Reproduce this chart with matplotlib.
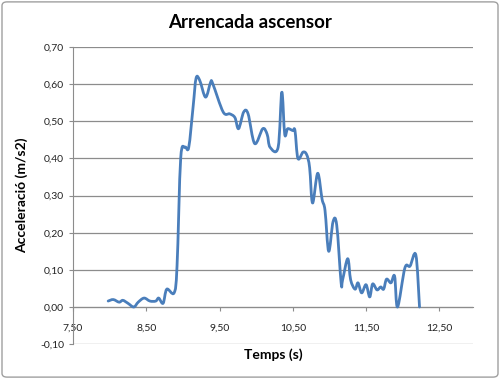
import matplotlib
matplotlib.use("Agg")
import matplotlib.pyplot as plt
from matplotlib.patches import FancyBboxPatch, PathPatch
from matplotlib.path import Path
from matplotlib.ticker import FuncFormatter, MultipleLocator

time_s = [7.98, 8.05, 8.13, 8.18, 8.25, 8.33, 8.39, 8.47, 8.55, 8.63, 8.67, 8.73,
          8.78, 8.88, 8.92, 8.97, 9.03, 9.08, 9.14, 9.18, 9.23, 9.31, 9.38, 9.41,
          9.55, 9.64, 9.71, 9.76, 9.83, 9.89, 9.98, 10.09, 10.15, 10.19, 10.30,
          10.35, 10.39, 10.43, 10.50, 10.53, 10.57, 10.64, 10.69, 10.73, 10.77,
          10.84, 10.90, 10.94, 10.99, 11.05, 11.10, 11.16, 11.18, 11.25, 11.29,
          11.35, 11.39, 11.44, 11.50, 11.55, 11.59, 11.65, 11.70, 11.74, 11.78,
          11.84, 11.89, 11.93, 12.03, 12.10, 12.18, 12.23]
accel = [0.016, 0.020, 0.013, 0.018, 0.010, 0.000, 0.013, 0.024, 0.016, 0.016, 0.024, 0.010,
         0.048, 0.038, 0.110, 0.400, 0.430, 0.430, 0.540, 0.616, 0.610, 0.565, 0.606, 0.600,
         0.525, 0.520, 0.510, 0.480, 0.525, 0.520, 0.440, 0.480, 0.465, 0.430, 0.430,
         0.578, 0.465, 0.480, 0.475, 0.475, 0.400, 0.417, 0.410, 0.375, 0.280,
         0.360, 0.290, 0.260, 0.150, 0.230, 0.220, 0.065, 0.073, 0.130, 0.073,
         0.048, 0.065, 0.038, 0.060, 0.027, 0.062, 0.046, 0.054, 0.048, 0.075,
         0.065, 0.083, 0.000, 0.105, 0.110, 0.140, 0.000]

title = "Arrencada ascensor"
xlabel = "Temps (s)"
ylabel = "Acceleració (m/s2)"

plt.rcParams['font.family'] = ['Lato', 'DejaVu Sans']

fig = plt.figure(figsize=(5.0, 3.79), dpi=100)
fig.patches.append(FancyBboxPatch((0.004, 0.005), 0.992, 0.99, boxstyle="round,pad=0,rounding_size=0.01",
                                  transform=fig.transFigure, fill=False, edgecolor='#a0a0a0', lw=1.0))
ax = fig.add_axes([0.146, 0.092, 0.800, 0.784])

# Excel-style smoothed line: cubic Bezier segments (Catmull-Rom control points)
n = len(time_s)
verts = [(time_s[0], accel[0])]
codes = [Path.MOVETO]
t = 1.0 / 6.0
for i in range(n - 1):
    p0 = (time_s[max(i - 1, 0)], accel[max(i - 1, 0)])
    p1 = (time_s[i], accel[i])
    p2 = (time_s[i + 1], accel[i + 1])
    p3 = (time_s[min(i + 2, n - 1)], accel[min(i + 2, n - 1)])
    c1 = (p1[0] + (p2[0] - p0[0]) * t, p1[1] + (p2[1] - p0[1]) * t)
    c2 = (p2[0] - (p3[0] - p1[0]) * t, p2[1] - (p3[1] - p1[1]) * t)
    verts += [c1, c2, p2]
    codes += [Path.CURVE4] * 3
ax.add_patch(PathPatch(Path(verts, codes), fill=False, edgecolor='#4a7ebb', lw=2.0,
                       joinstyle='round', capstyle='round', zorder=3))

ax.set_xlim(7.5, 12.96)
ax.set_ylim(-0.10, 0.70)
ax.set_xticks([7.5, 8.5, 9.5, 10.5, 11.5, 12.5])
ax.yaxis.set_major_locator(MultipleLocator(0.1))
fmt = FuncFormatter(lambda v, p: f"{v:.2f}".replace('.', ',').replace('-0,00', '0,00'))
ax.xaxis.set_major_formatter(fmt)
ax.yaxis.set_major_formatter(fmt)

ax.grid(axis='y', color='#8c8c8c', lw=0.9)
ax.set_axisbelow(True)
for s in ['top', 'right']:
    ax.spines[s].set_visible(False)
ax.spines['bottom'].set_position(('data', 0))
ax.spines['bottom'].set_color('#8c8c8c')
ax.spines['left'].set_color('#8c8c8c')
ax.tick_params(axis='both', colors='#8c8c8c', labelcolor='#222222', labelsize=7.5, length=3, direction='out')
ax.tick_params(axis='x', pad=9)

fig.text(0.5 * (0.146 + 0.946), 1 - 355 / 379, xlabel, ha='center', va='center', fontsize=10, fontweight='bold')
fig.text(0.044, 0.5 * (0.092 + 0.876), ylabel, rotation=90, ha='center', va='center', fontsize=10, fontweight='bold')
fig.text(0.5, 1 - 22 / 379, title, ha='center', va='center', fontsize=13.5, fontweight='bold')

fig.savefig('out.png', dpi=100)
